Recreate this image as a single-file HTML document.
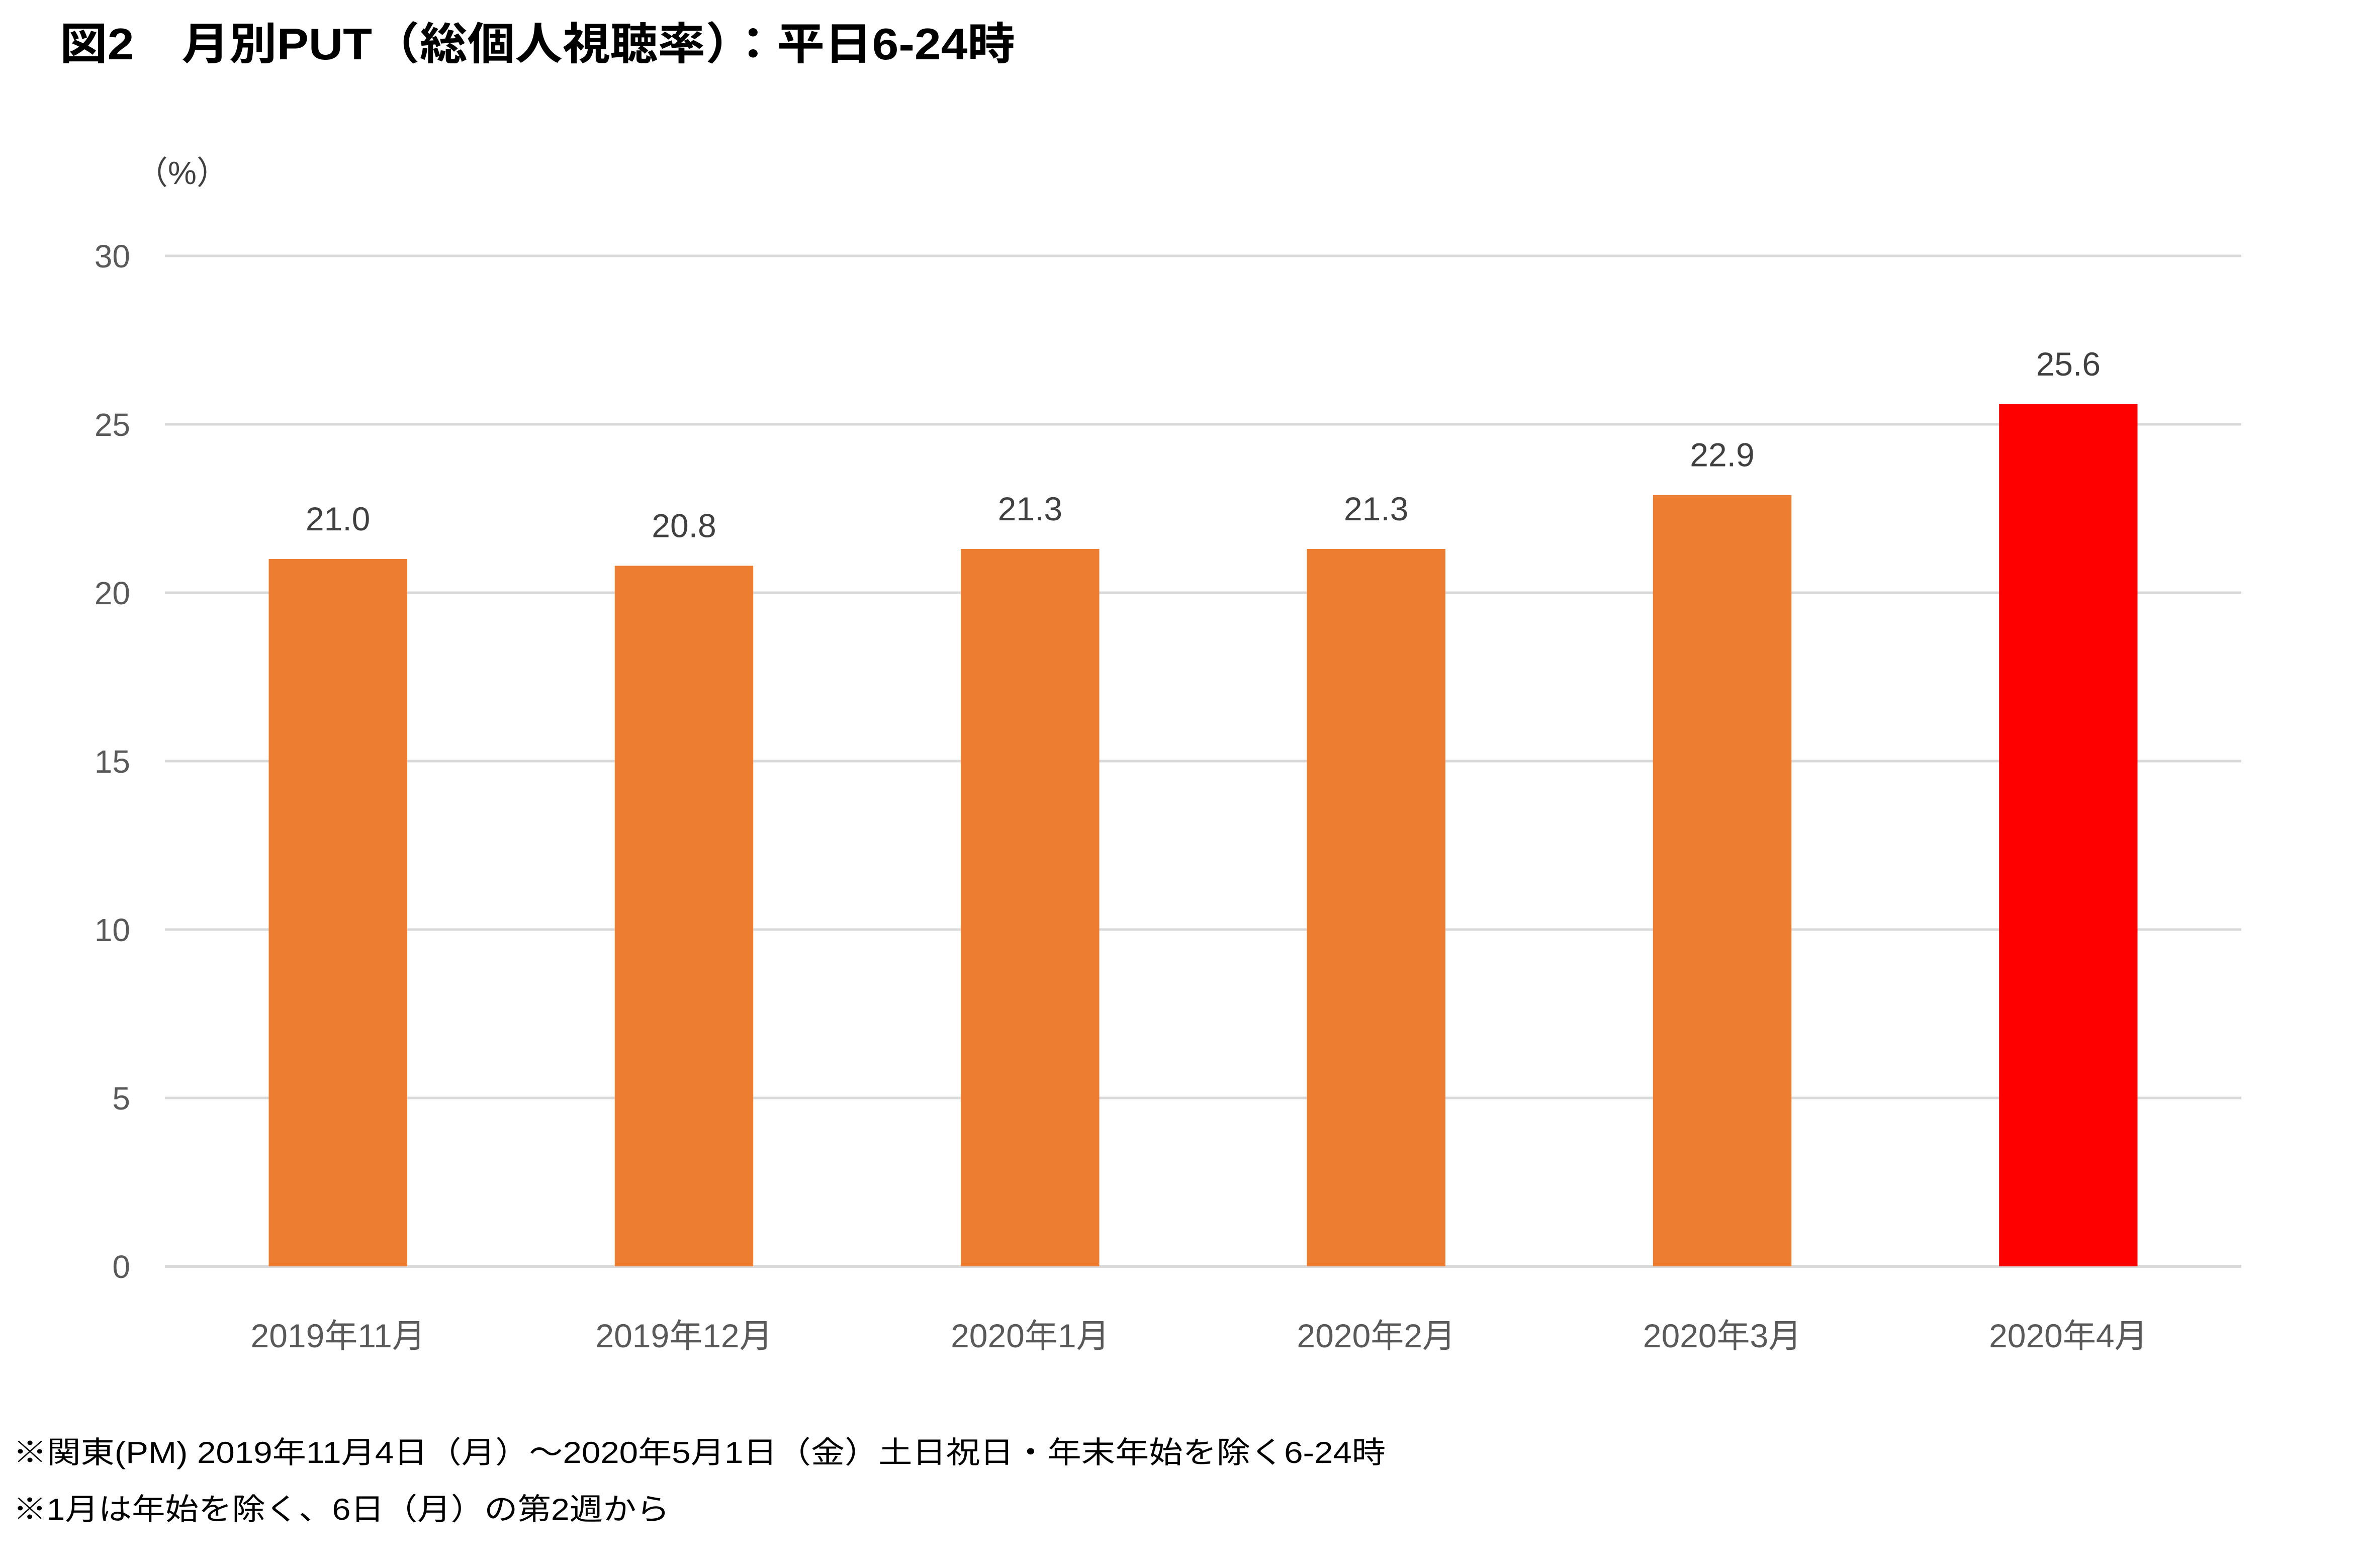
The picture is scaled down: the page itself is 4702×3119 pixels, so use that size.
<!DOCTYPE html>
<html><head><meta charset="utf-8"><style>
html,body{margin:0;padding:0;background:#fff;}
svg{display:block;font-family:"Liberation Sans","Noto Sans CJK JP",sans-serif;}
</style></head><body>
<svg id="chart" width="4702" height="3119" viewBox="0 0 4702 3119" xmlns="http://www.w3.org/2000/svg">
<text x="119" y="118" font-size="88" font-weight="bold" fill="#000" textLength="1900" lengthAdjust="spacingAndGlyphs">図2　月別PUT（総個人視聴率）：平日6-24時</text>
<text x="270" y="366" font-size="64" fill="#404040">（%）</text>
<g id="grid"></g>
<g id="yticks"></g>
<g id="bars"></g>
<g id="xlabels"></g>
<text x="26" y="2910" font-size="60" fill="#000" textLength="2730" lengthAdjust="spacingAndGlyphs">※関東(PM) 2019年11月4日（月）～2020年5月1日（金）土日祝日・年末年始を除く6-24時</text>
<text x="26" y="3023" font-size="60" fill="#000" textLength="1306" lengthAdjust="spacingAndGlyphs">※1月は年始を除く、6日（月）の第2週から</text>
</svg>
<script>
const categories = ["2019年11月","2019年12月","2020年1月","2020年2月","2020年3月","2020年4月"];
const values = [21.0, 20.8, 21.3, 21.3, 22.9, 25.6];
const valueLabels = ["21.0","20.8","21.3","21.3","22.9","25.6"];
const barColors = ["#ED7D31","#ED7D31","#ED7D31","#ED7D31","#ED7D31","#FF0000"];
const yTicks = [0,5,10,15,20,25,30];

const NS = "http://www.w3.org/2000/svg";
const plotLeft = 328, plotRight = 4458, plotBottom = 2519, plotTop = 509;
const yMax = 30;
function yScale(v){ return plotBottom - (v / yMax) * (plotBottom - plotTop); }
const band = (plotRight - plotLeft) / categories.length;
function xCenter(i){ return plotLeft + band * (i + 0.5); }
const barW = band * 0.4;

function mk(tag, attrs, parent){
  const el = document.createElementNS(NS, tag);
  for (const k in attrs) el.setAttribute(k, attrs[k]);
  parent.appendChild(el);
  return el;
}
const grid = document.getElementById("grid");
const yt = document.getElementById("yticks");
yTicks.forEach(function(t){
  const y = yScale(t);
  const ln = mk("line", {x1: plotLeft, x2: plotRight, y1: y, y2: y, stroke: "#D9D9D9", "stroke-width": t === 0 ? 6 : 5}, grid);
  
  
  const tx = mk("text", {x: 259, y: y + 23, "font-size": 64, fill: "#595959", "text-anchor": "end"}, yt);
  tx.textContent = String(t);
  
  
});
const bars = document.getElementById("bars");
const xl = document.getElementById("xlabels");
categories.forEach(function(c, i){
  const cx = xCenter(i);
  const top = yScale(values[i]);
  const r = mk("rect", {x: cx - barW / 2, y: top, width: barW, height: plotBottom - top, fill: barColors[i]}, bars);
  
  
  const vl = mk("text", {x: cx, y: top - 57, "font-size": 66, fill: "#404040", "text-anchor": "middle"}, bars);
  vl.textContent = valueLabels[i];
  
  
  const cl = mk("text", {x: cx, y: 2680, "font-size": 66, fill: "#595959", "text-anchor": "middle"}, xl);
  cl.textContent = c;
  
  
});
</script>
</body></html>
